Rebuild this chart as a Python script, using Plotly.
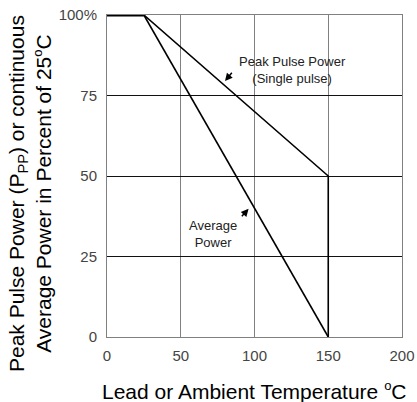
import plotly.graph_objects as go

# Data
flat_x = [0, 25]
flat_y = [100, 100]
peak_x = [25, 150, 150]
peak_y = [100, 50, 0]
avg_x = [25, 150]
avg_y = [100, 0]

x_ticks = [0, 50, 100, 150, 200]
x_tick_labels = ["0", "50", "100", "150", "200"]
y_ticks = [0, 25, 50, 75, 100]
y_tick_labels = ["0", "25", "50", "75", "100%"]

fig = go.Figure()
fig.add_trace(go.Scatter(x=flat_x, y=flat_y, mode="lines",
                         line=dict(color="black", width=3), showlegend=False))
fig.add_trace(go.Scatter(x=peak_x, y=peak_y, mode="lines",
                         line=dict(color="black", width=1.6), showlegend=False))
fig.add_trace(go.Scatter(x=avg_x, y=avg_y, mode="lines",
                         line=dict(color="black", width=1.6), showlegend=False))

font = "Liberation Sans, Arial, sans-serif"
deg = "<sup><span style='font-size:13px'>o</span></sup>"

fig.add_annotation(x=126, y=83, xref="x", yref="y",
                   text="Peak Pulse Power<br>(Single pulse)", showarrow=False,
                   font=dict(family=font, size=13, color="#222"))
fig.add_annotation(x=80, y=79.5, ax=85.5, ay=82.5, xref="x", yref="y", axref="x", ayref="y",
                   text="", showarrow=True, arrowhead=2, arrowsize=1, arrowwidth=1.5,
                   arrowcolor="black")
fig.add_annotation(x=72, y=32, xref="x", yref="y",
                   text="Average<br>Power", showarrow=False,
                   font=dict(family=font, size=13, color="#222"))
fig.add_annotation(x=96, y=39.8, ax=90.5, ay=37, xref="x", yref="y", axref="x", ayref="y",
                   text="", showarrow=True, arrowhead=2, arrowsize=1, arrowwidth=1.5,
                   arrowcolor="black")

fig.add_annotation(x=-0.261, y=0.444, xref="paper", yref="paper", textangle=-90,
                   xanchor="center", yanchor="middle",
                   text="Peak Pulse Power (P<sub>PP</sub>) or continuous<br>Average Power in Percent of 25" + deg + "C",
                   showarrow=False, font=dict(family=font, size=21, color="black"))
fig.add_annotation(x=0.5, y=-0.165, xref="paper", yref="paper",
                   xanchor="center", yanchor="middle",
                   text="Lead or Ambient Temperature " + deg + "C",
                   showarrow=False, font=dict(family=font, size=21, color="black"))

fig.update_xaxes(range=[0, 200], tickvals=x_ticks, ticktext=x_tick_labels,
                 showgrid=True, gridcolor="#808080", gridwidth=1,
                 showline=True, linecolor="#808080", linewidth=1, mirror=True,
                 zeroline=False, ticks="", automargin=False, ticklabelstandoff=5,
                 tickfont=dict(family=font, size=15, color="#444"))
fig.update_yaxes(range=[0, 100], tickvals=y_ticks, ticktext=y_tick_labels,
                 showgrid=True, gridcolor="#111111", gridwidth=1,
                 showline=True, linecolor="#808080", linewidth=1, mirror=True,
                 zeroline=False, ticks="", automargin=False, ticklabelstandoff=6,
                 tickfont=dict(family=font, size=15, color="#444"))

fig.update_layout(width=417, height=402, plot_bgcolor="white", paper_bgcolor="white",
                  margin=dict(l=107, r=15, t=15, b=65))

fig.write_html("out.html", config={"displayModeBar": False},
               post_script="document.body.style.margin='0';document.body.style.overflow='hidden';")
